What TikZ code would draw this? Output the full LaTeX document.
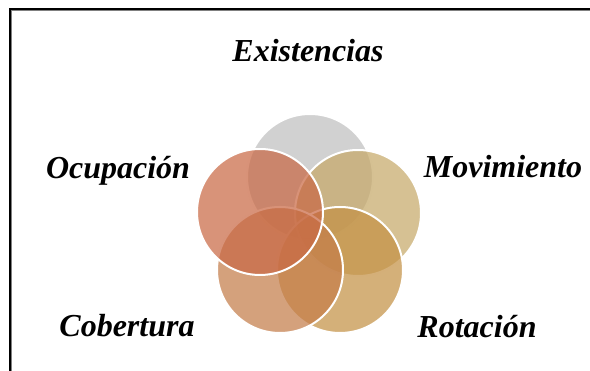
\documentclass[tikz,border=0pt]{standalone}
\usepackage{fontspec}
\setmainfont{Liberation Serif}
\usepackage{xcolor}
\definecolor{existgray}{RGB}{191,191,191}
\definecolor{movtan}{RGB}{198,169,105}
\definecolor{rotgold}{RGB}{196,145,69}
\definecolor{cobbrown}{RGB}{196,125,74}
\definecolor{ocusalmon}{RGB}{201,105,69}
\tikzset{
  venn/.style={circle,minimum size=126pt,inner sep=0pt,draw=white,line width=2pt,fill opacity=0.72},
  lbl/.style={font=\fontsize{32}{38}\selectfont\bfseries\itshape,anchor=base,inner sep=0pt}
}

\begin{document}
\begin{tikzpicture}[x=1pt,y=-1pt]
  \useasboundingbox (0,0) rectangle (590,371);
  % circles, back to front
  \node (exist) [venn,fill=existgray] at (310,177) {};
  \node (movim) [venn,fill=movtan] at (358,213) {};
  \node (rotac) [venn,fill=rotgold] at (340,270) {};
  \node (cober) [venn,fill=cobbrown] at (280,270) {};
  \node (ocupa) [venn,fill=ocusalmon] at (260,212) {};
  % labels
  \node (lexist) [lbl] at (308,62) {Existencias};
  \node (locupa) [lbl] at (118,179) {Ocupación};
  \node (lmovim) [lbl] at (503,178) {Movimiento};
  \node (lcober) [lbl] at (127,337) {Cobertura};
  \node (lrotac) [lbl] at (477,338) {Rotación};
  % frame
  \draw [line width=1pt,gray] (11.2,371) -- (11.2,10.2) -- (590,10.2);
  \draw [line width=1.5pt] (10.2,371) -- (10.2,9.2) -- (590,9.2);
\end{tikzpicture}
\end{document}
